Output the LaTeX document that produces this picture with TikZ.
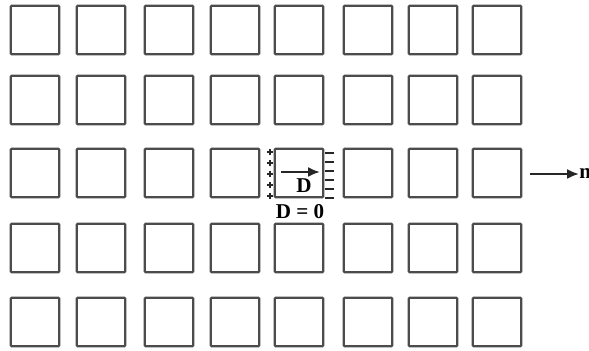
\documentclass[tikz,border=0pt]{standalone}
\usepackage{fontspec}
\setmainfont{Liberation Serif}
\usetikzlibrary{arrows.meta, positioning}

\begin{document}
\begin{tikzpicture}[x=0.02cm, y=-0.02cm,
  every node/.style={font=\bfseries\large},
  cell/.style={draw=black!70, line width=1.3pt, rounded corners=0.6pt, minimum size=0.97cm, inner sep=0pt},
  flux/.style={-{Latex[length=2.4mm,width=2mm]}, line width=1.2pt, black!85}]
  \useasboundingbox (0,0) rectangle (589,351);
  % grid of cells
  \foreach \x [count=\i] in {35,101,169,235,299,368,433,497}
    \foreach \y [count=\j] in {30,100,173,248,322}
      \node[cell] (c-\i-\j) at (\x,\y) {};
  % charges on the middle cell
  \foreach \y in {152,163,174,185,196}
    \draw[line width=0.8pt, black!85] (267,\y) -- (273,\y) (270,\y-3) -- (270,\y+3);
  \foreach \y in {153,162,171,180,189,198}
    \draw[line width=0.9pt, black!85] (325,\y) -- (334,\y);
  \coordinate (din) at (281,172);
  \coordinate (dout) at (320,172);
  \draw[flux] (din) -- (dout);
  \node (dlab) at (304,186) {D};
  \node (dzero) at (300,212) {D = 0};
  % field direction
  \coordinate (nin) at (530,174);
  \node[anchor=west, inner sep=0pt] (n) at (579,174) {n};
  \draw[flux] (nin) -- (n);
\end{tikzpicture}
\end{document}
